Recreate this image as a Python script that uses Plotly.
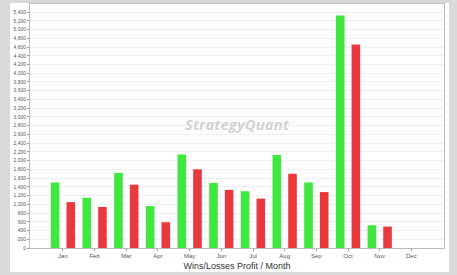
import plotly.graph_objects as go

months = ["Jan", "Feb", "Mar", "Apr", "May", "Jun", "Jul", "Aug", "Sep", "Oct", "Nov", "Dec"]
wins = [1500, 1150, 1720, 960, 2140, 1490, 1300, 2130, 1500, 5320, 520, 0]
losses = [1050, 940, 1450, 590, 1800, 1330, 1130, 1700, 1280, 4660, 490, 0]
y_ticks = list(range(0, 5401, 200))
y_tick_labels = [f"{v:,}" for v in y_ticks]

W, H = 457, 275
fig = go.Figure()
fig.add_trace(go.Bar(x=list(range(12)), y=wins, name="Wins",
                     marker=dict(color="rgb(62,232,62)", line=dict(width=0))))
fig.add_trace(go.Bar(x=list(range(12)), y=losses, name="Losses",
                     marker=dict(color="rgb(232,58,62)", line=dict(width=0))))

fig.update_layout(
    width=W, height=H,
    margin=dict(l=30, r=13, t=4, b=27),
    paper_bgcolor="#d9d9d9",
    plot_bgcolor="white",
    barmode="group", bargap=0.01, bargroupgap=0.45,
    showlegend=False,
    hovermode=False,
    font=dict(family="Liberation Sans, Arial, sans-serif", color="#444"),
    xaxis=dict(
        range=[-1.04, 12.03],
        tickmode="array", tickvals=list(range(12)), ticktext=months,
        tickfont=dict(size=6, color="#555"),
        ticks="outside", ticklen=2, tickcolor="#999",
        showgrid=False, zeroline=False,
        showline=True, linecolor="#bbb", linewidth=1, mirror=True,
        title=dict(text="Wins/Losses Profit / Month", font=dict(size=9, color="#333"), standoff=4),
        automargin=False,
        fixedrange=True,
    ),
    yaxis=dict(
        range=[0, 5585],
        tickmode="array", tickvals=y_ticks, ticktext=y_tick_labels,
        tickfont=dict(size=5, color="#555"),
        ticks="outside", ticklen=2, tickcolor="#999",
        showgrid=True, gridcolor="#e2e2e2", griddash="1px,1px", gridwidth=1,
        zeroline=False,
        showline=True, linecolor="#bbb", linewidth=1, mirror=True,
        automargin=False,
        fixedrange=True,
    ),
    shapes=[dict(type="rect", xref="paper", yref="paper",
                 x0=(10 - 30) / (W - 43), x1=(449 - 30) / (W - 43),
                 y0=-(272 - 248) / (H - 31), y1=1 + 1 / (H - 31),
                 fillcolor="white", line=dict(width=0), layer="below")],
    annotations=[dict(text="<b><i>StrategyQuant</i></b>", xref="paper", yref="paper",
                      x=(237 - 30) / (W - 43), y=(248 - 124) / (H - 31),
                      showarrow=False, font=dict(size=15, color="rgba(205,205,205,0.9)",
                                                  family="Open Sans, sans-serif"))],
)
fig.write_html("out.html", config={"displayModeBar": False, "staticPlot": True},
               post_script="document.body.style.margin='0';document.body.style.padding='0';")
